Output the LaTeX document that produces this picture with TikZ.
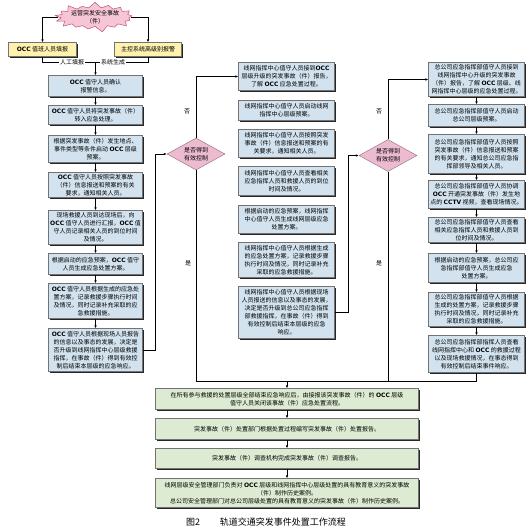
\documentclass[tikz,border=0pt]{standalone}
\usepackage{fontspec}
\newfontfamily\cjk{Noto Sans CJK SC}
\newfontfamily\dvs{DejaVu Sans}
\usetikzlibrary{shapes.geometric,shapes.symbols,shadows,arrows.meta}
\definecolor{bluefill}{HTML}{D2E3EF}
\definecolor{greenfill}{HTML}{DCEBD2}
\definecolor{yellowfill}{HTML}{FFF1AE}
\definecolor{pinkfill}{HTML}{F7C6D6}
\definecolor{pinkdraw}{HTML}{C0506F}
\definecolor{diafill}{HTML}{EDBBD0}
\definecolor{diadraw}{HTML}{9A7A88}
\newcommand\OCC{{\dvs\bfseries OCC}}
\newcommand\CCTV{{\dvs\bfseries CCTV}}
\begin{document}
\begin{tikzpicture}[x=1pt,y=-1pt,
  base/.style={draw=black!55, line width=0.4pt, align=center, inner sep=1pt,
    font=\cjk\fontsize{6}{8}\selectfont,
    drop shadow={shadow xshift=1.4pt, shadow yshift=-1.4pt, fill=black!85, opacity=1}},
  bbox/.style={base, fill=bluefill},
  lbox/.style={bbox, minimum width=94pt},
  mbox/.style={bbox, minimum width=96pt},
  rbox/.style={bbox, minimum width=96pt},
  gbox/.style={base, fill=greenfill, minimum width=263pt},
  ybox/.style={base, fill=yellowfill, minimum height=14pt},
  dia/.style={diamond, draw=diadraw, fill=diafill, line width=0.5pt, aspect=1.8,
    inner sep=0pt, minimum width=58pt, minimum height=32pt, align=center,
    font=\cjk\fontsize{6}{8}\selectfont},
  lab/.style={font=\cjk\fontsize{6}{8}\selectfont, inner sep=1pt},
  arr/.style={-{Latex[length=3pt,width=2.6pt]}, line width=0.6pt},
  ln/.style={line width=0.6pt}]
\useasboundingbox (0,0) rectangle (530,532);

% top
\node[starburst, starburst points=17, starburst point height=6pt, random starburst=40,
  draw=pinkdraw, fill=pinkfill, line width=0.5pt, minimum width=80pt, minimum height=30pt,
  inner sep=0pt, align=center, font=\cjk\fontsize{6}{7.5}\selectfont] (S) at (95,17)
  {运营突发安全事故\\（件）};
\node[ybox, minimum width=68pt] (YL) at (42.5,49.5) {\OCC{} 值班人员填报};
\node[ybox, minimum width=67pt] (YR) at (148,49.5) {主控系统高级别报警};
\coordinate (jL) at (42.5,62);
\coordinate (jR) at (148,62);
\coordinate (jM) at (95.5,62);

% left column
\node[lbox, minimum height=21pt] (L1) at (95.5,86) {\OCC{} 值守人员确认\\报警信息。};
\node[lbox, minimum height=19pt] (L2) at (95.5,115) {\OCC{} 值守人员将突发事故（件）\\转入应急处理。};
\node[lbox, minimum height=27pt] (L3) at (95.5,149) {根据突发事故（件）发生地点、\\事件类型等条件启动 \OCC{} 层级\\预案。};
\node[lbox, minimum height=25pt] (L4) at (95.5,185) {\OCC{} 值守人员按照突发事故\\（件）信息报送和预案的有关\\要求，通知相关人员。};
\node[lbox, minimum height=34pt] (L5) at (95.5,227.5) {现场救援人员到达现场后，向\\\OCC{} 值守人员进行汇报，\OCC{} 值\\守人员记录相关人员的到位时间\\及情况。};
\node[lbox, minimum height=21pt] (L6) at (95.5,264) {根据启动的应急预案，\OCC{} 值守\\人员生成应急处置方案。};
\node[lbox, minimum height=35pt] (L7) at (95.5,301) {\OCC{} 值守人员根据生成的应急处\\置方案，记录救援步骤执行时间\\及情况，同时记录补充采取的应\\急救援措施。};
\node[lbox, minimum height=43pt] (L8) at (95.5,350) {\OCC{} 值守人员根据现场人员报告\\的信息以及事态的发展，决定是\\否升级到线网指挥中心层级救援\\指挥，在事故（件）得到有效控\\制后结束本层级的应急响应。};

% diamonds
\node[dia] (D1) at (196,154) {是否得到\\有效控制};
\node[dia] (D2) at (388,155.5) {是否得到\\有效控制};

% middle column
\node[mbox, minimum height=28pt] (M1) at (286.5,76.5) {线网指挥中心值守人员接到\OCC\\层级升级的突发事故（件）报告，\\了解 \OCC{} 应急处置过程。};
\node[mbox, minimum height=20pt] (M2) at (286.5,110.5) {线网指挥中心值守人员启动线网\\指挥中心层级预案。};
\node[mbox, minimum height=28pt] (M3) at (286.5,143.5) {线网指挥中心值守人员按照突发\\事故（件）信息报送和预案的有\\关要求，通知相关人员。};
\node[mbox, minimum height=29pt] (M4) at (286.5,181) {线网指挥中心值守人员查看相关\\应急指挥人员和救援人员的到位\\时间及情况。};
\node[mbox, minimum height=28pt] (M5) at (286.5,219.5) {根据启动的应急预案，线网指挥\\中心值守人员生成线网层级应急\\处置方案。};
\node[mbox, minimum height=35pt] (M6) at (286.5,260) {线网指挥中心值守人员根据生成\\的应急处置方案，记录救援步骤\\执行时间及情况，同时记录补充\\采取的应急救援措施。};
\node[mbox, minimum height=52pt] (M7) at (286.5,312.5) {线网指挥中心值守人员根据现场\\人员报送的信息以及事态的发展，\\决定是否升级到总公司应急指挥\\部救援指挥，在事故（件）得到\\有效控制后结束本层级的应急\\响应。};

% right column
\node[rbox, minimum height=34pt] (R1) at (476.5,79.5) {总公司应急指挥部值守人员接到\\线网指挥中心升级的突发事故\\（件）报告，了解 \OCC{} 层级、线\\网指挥中心层级的应急处置过程。};
\node[rbox, minimum height=22pt] (R2) at (476.5,115.5) {总公司应急指挥部值守人员启动\\总公司层级预案。};
\node[rbox, minimum height=39pt] (R3) at (476.5,154) {总公司应急指挥部值守人员按照\\突发事故（件）信息报送和预案\\的有关要求，通知总公司应急指\\挥部领导及相关人员。};
\node[rbox, minimum height=28pt] (R4) at (476.5,194.5) {总公司应急指挥部值守人员协调\\\OCC{} 开通突发事故（件）发生地\\点的 \CCTV{} 视频，查看现场情况。};
\node[rbox, minimum height=25pt] (R5) at (476.5,230) {总公司应急指挥部值守人员查看\\相关应急指挥人员和救援人员到\\位时间及情况。};
\node[rbox, minimum height=29pt] (R6) at (476.5,268) {根据启动的应急预案，总公司应\\急指挥部值守人员生成应急\\处置方案。};
\node[rbox, minimum height=34pt] (R7) at (476.5,309.5) {总公司应急指挥部值守人员根据\\生成的处置方案，记录救援步骤\\执行时间及情况，同时记录补充\\采取的应急救援措施。};
\node[rbox, minimum height=37pt] (R8) at (476.5,354) {总公司应急指挥部指挥人员查看\\线网指挥中心和 \OCC{} 的救援过程\\以及现场救援情况，在事态得到\\有效控制后结束事件响应。};

% bottom
\node[gbox, minimum height=21pt] (B1) at (287,399) {在所有参与救援的处置层级全部结束应急响应后，由接报该突发事故（件）的 \OCC{} 层级\\值守人员关闭该事故（件）应急处置流程。};
\node[gbox, minimum height=21pt] (B2) at (287,429) {突发事故（件）处置部门根据处置过程编写突发事故（件）处置报告。};
\node[gbox, minimum height=20pt] (B3) at (287,458.5) {突发事故（件）调查机构完成突发事故（件）调查报告。};
\node[gbox, minimum height=29pt] (B4) at (287,493) {线网层级安全管理部门负责对 \OCC{} 层级和线网指挥中心层级处置的具有教育意义的突发事故\\（件）制作历史案例。\\总公司安全管理部门对总公司层级处置的具有教育意义的突发事故（件）制作历史案例。};

\node[font=\cjk\fontsize{9}{10}\selectfont, inner sep=0pt] (cap) at (266,522) {图2\hspace{2.2em}轨道交通突发事件处置工作流程};

% connectors top
\draw[arr] (S.west) -| (YL.north);
\draw[arr] (S.east) -| (YR.north);
\draw[ln] (YL.south) -- (jL) -- (jR) -- (YR.south);
\node[lab, fill=white] (t1) at (72,62) {人工填报};
\node[lab, fill=white] (t2) at (113,62) {系统生成};
\draw[arr] (jM) -- (L1.north);

% left chain
\foreach \a/\b in {L1/L2,L2/L3,L3/L4,L4/L5,L5/L6,L6/L7,L7/L8}
  \draw[arr] (\a.south) -- (\b.north);
\draw[arr] (L8.east) -- ++(13,0) |- (D1.west);
\draw[arr] (D1.north) |- (M1.west);
\node[lab] (no1) at (187,111) {否};
\node[lab] (yes1) at (188,263) {是};

% middle to second diamond
\draw[arr] (M7.east) -- ++(14,0) |- (D2.west);
\draw[arr] (D2.north) |- (R1.west);
\node[lab] (no2) at (379,111) {否};
\node[lab] (yes2) at (379,263) {是};

% right chain
\foreach \a/\b in {R1/R2,R2/R3,R3/R4,R4/R5,R5/R6,R6/R7,R7/R8}
  \draw[arr] (\a.south) -- (\b.north);

% merge
\coordinate (busL) at (196,381);
\coordinate (busR) at (476.5,381);
\draw[ln] (D1.south) -- (busL) -- (busR) -- (R8.south);
\draw[ln] (D2.south) -- (D2.south |- busL);
\draw[arr] (B1.north |- busL) -- (B1.north);

% bottom chain
\foreach \a/\b in {B1/B2,B2/B3,B3/B4}
  \draw[arr] (\a.south) -- (\b.north);
\end{tikzpicture}
\end{document}
